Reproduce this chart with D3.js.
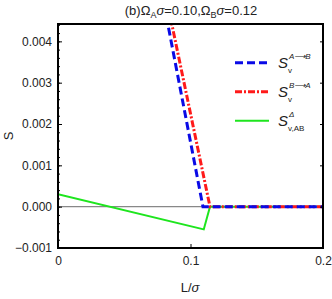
<!DOCTYPE html>
<html><head><meta charset="utf-8">
<script src="https://cdn.jsdelivr.net/npm/d3@7"></script>
<style>body{margin:0;background:#fff}svg{display:block}text{font-family:"Liberation Sans",Arial,sans-serif}</style>
</head><body><svg id="c" width="332" height="299"></svg>
<script>
const xTicks = [0, 0.1, 0.2];
const yTicks = [-0.001, 0, 0.001, 0.002, 0.003, 0.004];
const blueL = [0.080, 0.1094, 0.2];
const blueS = [0.0049, 0, 0];
const redL = [0.083, 0.1147, 0.2];
const redS = [0.00486, 0, 0];
const greenL = [0, 0.110, 0.1147, 0.2];
const greenS = [0.0003, -0.00055, 0, 0];

const svg = d3.select("#c");
const m = {l:58, r:323, t:24, b:248};
const x = d3.scaleLinear().domain([0,0.2]).range([m.l,m.r]);
const y = d3.scaleLinear().domain([-0.001,0.00442]).range([m.b,m.t]);

svg.append("defs").append("clipPath").attr("id","clip").append("rect")
  .attr("x",m.l).attr("y",m.t).attr("width",m.r-m.l).attr("height",m.b-m.t);

svg.append("line").attr("x1",m.l).attr("x2",m.r).attr("y1",y(0)).attr("y2",y(0))
  .attr("stroke","#888").attr("stroke-width",1.2);

const line = d3.line().x(d=>x(d[0])).y(d=>y(d[1]));
const g = svg.append("g").attr("clip-path","url(#clip)");
g.append("path").datum(greenL.map((v,i)=>[v,greenS[i]])).attr("d",line)
  .attr("fill","none").attr("stroke","#1ee51e").attr("stroke-width",2);
g.append("path").datum(redL.map((v,i)=>[v,redS[i]])).attr("d",line)
  .attr("fill","none").attr("stroke","#ff1a1a").attr("stroke-width",3).attr("stroke-dasharray","7,2,2,2");
g.append("path").datum(blueL.map((v,i)=>[v,blueS[i]])).attr("d",line)
  .attr("fill","none").attr("stroke","#0a0ae6").attr("stroke-width",3).attr("stroke-dasharray","8,4");

const minorY = d3.range(-0.001,0.00441,0.0002);
const yl = svg.append("g").attr("transform",`translate(${m.l},0)`)
  .call(d3.axisLeft(y).tickValues(minorY).tickSize(-2).tickFormat(""));
const ylM = svg.append("g").attr("transform",`translate(${m.l},0)`)
  .call(d3.axisLeft(y).tickValues(yTicks).tickSize(-4).tickPadding(6).tickFormat(d=>d.toFixed(3).replace("-","\u2212")));
const yr = svg.append("g").attr("transform",`translate(${m.r},0)`)
  .call(d3.axisRight(y).tickValues(yTicks).tickSize(-3).tickFormat(""));
const xb = svg.append("g").attr("transform",`translate(0,${m.b})`)
  .call(d3.axisBottom(x).tickValues(xTicks).tickSize(-4).tickPadding(8).tickFormat(d=>d===0?"0":d3.format(".1f")(d)));
[yl,ylM,yr,xb].forEach(a=>{a.select(".domain").remove();a.selectAll("line").attr("stroke","#000");
  a.selectAll("text").attr("font-size",12).attr("fill","#222").attr("font-family","Liberation Sans Narrow, Liberation Sans, Arial");});

svg.append("rect").attr("x",m.l).attr("y",m.t).attr("width",m.r-m.l).attr("height",m.b-m.t)
  .attr("fill","none").attr("stroke","#000").attr("stroke-width",2);

const t = svg.append("text").attr("x",191).attr("y",15).attr("text-anchor","middle").attr("font-size",13).attr("fill","#222")
  .attr("font-family","Liberation Sans Narrow, Liberation Sans, Arial");
t.append("tspan").text("(b)Ω");
t.append("tspan").text("A").attr("font-size",9).attr("dy",3);
t.append("tspan").text("σ").attr("font-style","italic").attr("dy",-3);
t.append("tspan").text("=0.10,Ω");
t.append("tspan").text("B").attr("font-size",9).attr("dy",3);
t.append("tspan").text("σ").attr("font-style","italic").attr("dy",-3);
t.append("tspan").text("=0.12");

svg.append("text").attr("transform","translate(13,136) rotate(-90)").attr("text-anchor","middle")
  .attr("font-size",13).attr("fill","#222").text("S");
const xl = svg.append("text").attr("x",190).attr("y",292).attr("text-anchor","middle").attr("font-size",13).attr("fill","#222");
xl.append("tspan").text("L/");
xl.append("tspan").text("σ").attr("font-style","italic");

const leg = [
  {sup:"A\u27F6B", sub:"v", c:"#0a0ae6", w:3, da:"8,4"},
  {sup:"B\u27F6A", sub:"v", c:"#ff1a1a", w:3, da:"7,2,2,2"},
  {sup:"Δ", sub:"v,AB", c:"#1ee51e", w:2, da:null}
];
leg.forEach((d,i)=>{
  const yy = 62.7 + i*29;
  svg.append("line").attr("x1",235).attr("x2",269).attr("y1",yy).attr("y2",yy)
    .attr("stroke",d.c).attr("stroke-width",d.w).attr("stroke-dasharray",d.da);
  svg.append("text").attr("x",278).attr("y",yy+5).attr("fill","#222")
    .text("S").attr("font-size",15).attr("font-style","italic").attr("font-family","DejaVu Serif, serif");
  svg.append("text").attr("x",289).attr("y",yy-4).attr("font-size",8).attr("font-style","italic").attr("fill","#222")
    .attr("font-family","DejaVu Sans, sans-serif").text(d.sup);
  svg.append("text").attr("x",288).attr("y",yy+10).attr("font-size",8).attr("fill","#222").text(d.sub);
});
</script></body></html>
